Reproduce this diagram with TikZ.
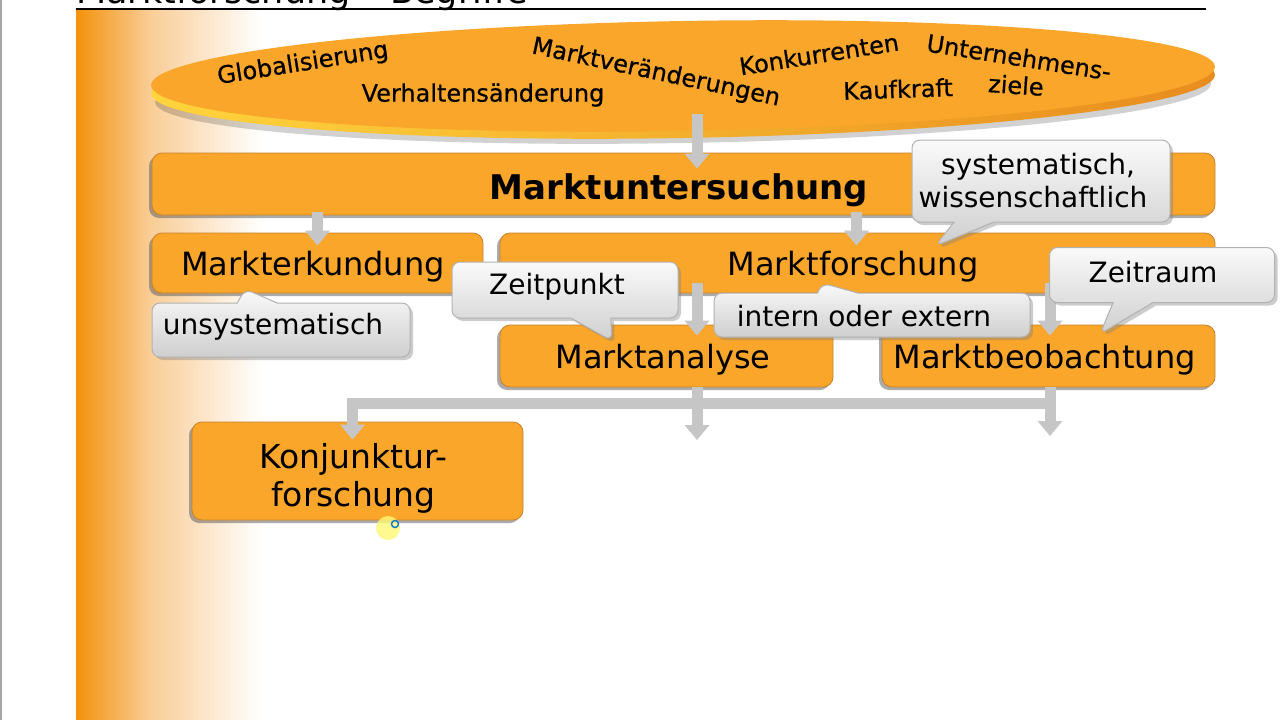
\documentclass[tikz,border=0pt]{standalone}
\usepackage{fontspec}
\setmainfont{DejaVu Sans}
\newfontfamily\efont[BoldFont=DejaVu Sans, BoldFeatures={FakeBold=0.6}]{DejaVu Sans}
\usetikzlibrary{shapes.callouts,shapes.geometric,shadows,arrows.meta,calc}
\newcommand{\mv}[2]{\raisebox{#1}[\height][\depth]{#2}}
\definecolor{oboxc}{RGB}{249,166,42}
\definecolor{oedge}{RGB}{200,130,45}
\definecolor{band}{RGB}{243,146,10}
\definecolor{bandmid}{RGB}{249,205,150}
\definecolor{rimc}{RGB}{255,212,60}
\definecolor{rimr}{RGB}{232,140,30}
\definecolor{arrc}{RGB}{198,198,198}
\tikzset{
 obox/.style={fill=oboxc, draw=oedge, line width=0.8pt, rounded corners=10pt,
   drop shadow={shadow xshift=-3pt, shadow yshift=-3pt, opacity=0.5, fill=black!65},
   font=\fontsize{32}{38}\selectfont, align=center, inner sep=0pt},
 etext/.style={font=\efont\bfseries\fontsize{24}{28}\selectfont, text=black, inner sep=0pt},
 callbox/.style={rectangle callout, rounded corners=8pt, top color=gray!4, bottom color=gray!38,
   draw=gray!60, line width=1pt, callout pointer width=40pt,
   drop shadow={shadow xshift=3pt, shadow yshift=-3pt, opacity=0.4},
   font=\fontsize{28}{33}\selectfont, align=center, inner sep=0pt},
 garrow/.style={draw=arrc, line width=11pt, -{Triangle[width=24pt,length=15pt]}},
}
\begin{document}
\begin{tikzpicture}[x=1pt,y=-1pt]
\useasboundingbox (0,0) rectangle (1280,720);
\fill[white] (0,0) rectangle (1280,720);
% left border
\draw[gray!70, line width=2pt] (1,0) -- (1,720);
% orange band
\shade[left color=band, right color=bandmid] (76,10) rectangle (150,720);
\shade[left color=bandmid, right color=white] (149.5,10) rectangle (262,720);
% title
\node[anchor=base west, font=\fontsize{35}{40}\selectfont, inner sep=0pt] (title) at (76,4) {Marktforschung – Begriffe};
\draw[line width=2.2pt] (76,9) -- (1206,9);
% ellipse
\fill[black, opacity=0.18, rotate around={1:(683,92)}] (683,93) ellipse (528 and 50);
\shade[left color=rimc, right color=rimr, rotate around={1:(683,84)}] (683,84) ellipse (532 and 54);
\node[ellipse, fill=oboxc, minimum width=1064, minimum height=110, rotate=1, inner sep=0pt] (ell) at (683,76) {};
\node[etext, rotate=9] (glob) at (303,64) {Globalisierung};
\node[etext] (verh) at (483,95) {Verhaltensänderung};
\node[etext, rotate=-12] (mver) at (656,73) {Marktveränderungen};
\node[etext, rotate=9] (konk) at (819,54) {Konkurrenten};
\node[etext, rotate=-9] (unt) at (1019,57) {Unternehmens-};
\node[etext, rotate=-4] (ziele) at (1016,85) {ziele};
\node[etext, rotate=2] (kauf) at (898,89) {Kaufkraft};
% boxes
\node[obox, minimum width=1063, minimum height=62] (mu) at (683.5,184) {};
\node[font=\bfseries\fontsize{34}{38}\selectfont, inner sep=0pt] (mut) at (679,190) {Marktuntersuchung};
\node[obox, minimum width=331, minimum height=60] (mk) at (317.5,263) {\hspace*{-9pt}\mv{-4pt}{Markterkundung}};
\node[obox, minimum width=715, minimum height=60] (mf) at (857.5,263) {\hspace*{-9pt}\mv{-4pt}{Marktforschung}};
\node[obox, minimum width=333, minimum height=62] (ma) at (666.5,356) {\hspace*{-7pt}\mv{-4pt}{Marktanalyse}};
\node[obox, minimum width=333, minimum height=62] (mb) at (1048.5,356) {\hspace*{-8pt}\mv{-4pt}{Marktbeobachtung}};
\node[obox, minimum width=331, minimum height=98, font=\fontsize{33}{38}\selectfont] (kj) at (357.5,471) {\hspace*{-8pt}\mv{-7pt}{Konjunktur-}\\\hspace*{-8pt}\mv{-7pt}{forschung}};
% arrows
\coordinate (e1) at (697,114);
\draw[garrow] (e1) -- ([yshift=-16pt]e1 |- mu.north);
\draw[garrow] ([yshift=3pt]mk.north |- mu.south) -- ([yshift=-13pt]mk.north);
\draw[garrow] ([xshift=-1pt,yshift=3pt]mf.north |- mu.south) -- ([xshift=-1pt,yshift=-13pt]mf.north);
\coordinate (a2) at (697,283);
\draw[garrow] (a2) -- ([yshift=-11pt]a2 |- ma.north);
\coordinate (a3) at (1050,283);
\draw[garrow] (a3) -- ([yshift=-11pt]a3 |- mb.north);
\coordinate (f1) at (697,440);
\coordinate (f2) at (1050,436);
\coordinate (barR) at (1056,403);
\draw[garrow] (f1 |- ma.south) -- (f1);
\draw[garrow] (f2 |- mb.south) -- (f2);
\draw[garrow, line join=miter] (barR) -| ([xshift=-5pt,yshift=-18pt]kj.north);
% callouts
\node[callbox, minimum width=258, minimum height=54, callout absolute pointer={(245,289)}] (cu) at (281,330) {\hspace*{-16pt}\mv{3pt}{unsystematisch}};
\node[callbox, minimum width=226, minimum height=56, callout absolute pointer={(612,341)}] (cz) at (565,290) {\hspace*{-16pt}\mv{3pt}{Zeitpunkt}};
\node[callbox, minimum width=316, minimum height=44, callout absolute pointer={(822,283)}] (ci) at (872,315) {\hspace*{-16pt}\mv{-1pt}{intern oder extern}};
\node[callbox, minimum width=258, minimum height=82, callout absolute pointer={(935,246)}] (cs) at (1041,181) {\hspace*{-6pt}systematisch,\\\hspace*{-16pt}wissenschaftlich};
\node[callbox, minimum width=225, minimum height=55, callout absolute pointer={(1100,334)}] (cr) at (1162,275) {\hspace*{-18pt}\mv{3pt}{Zeitraum}};
% cursor highlight
\fill[yellow!55, opacity=0.8] (388,528) circle (12);
\draw[cyan!60!blue, line width=1.5pt] (395,524) circle (3.5);
\end{tikzpicture}
\end{document}
